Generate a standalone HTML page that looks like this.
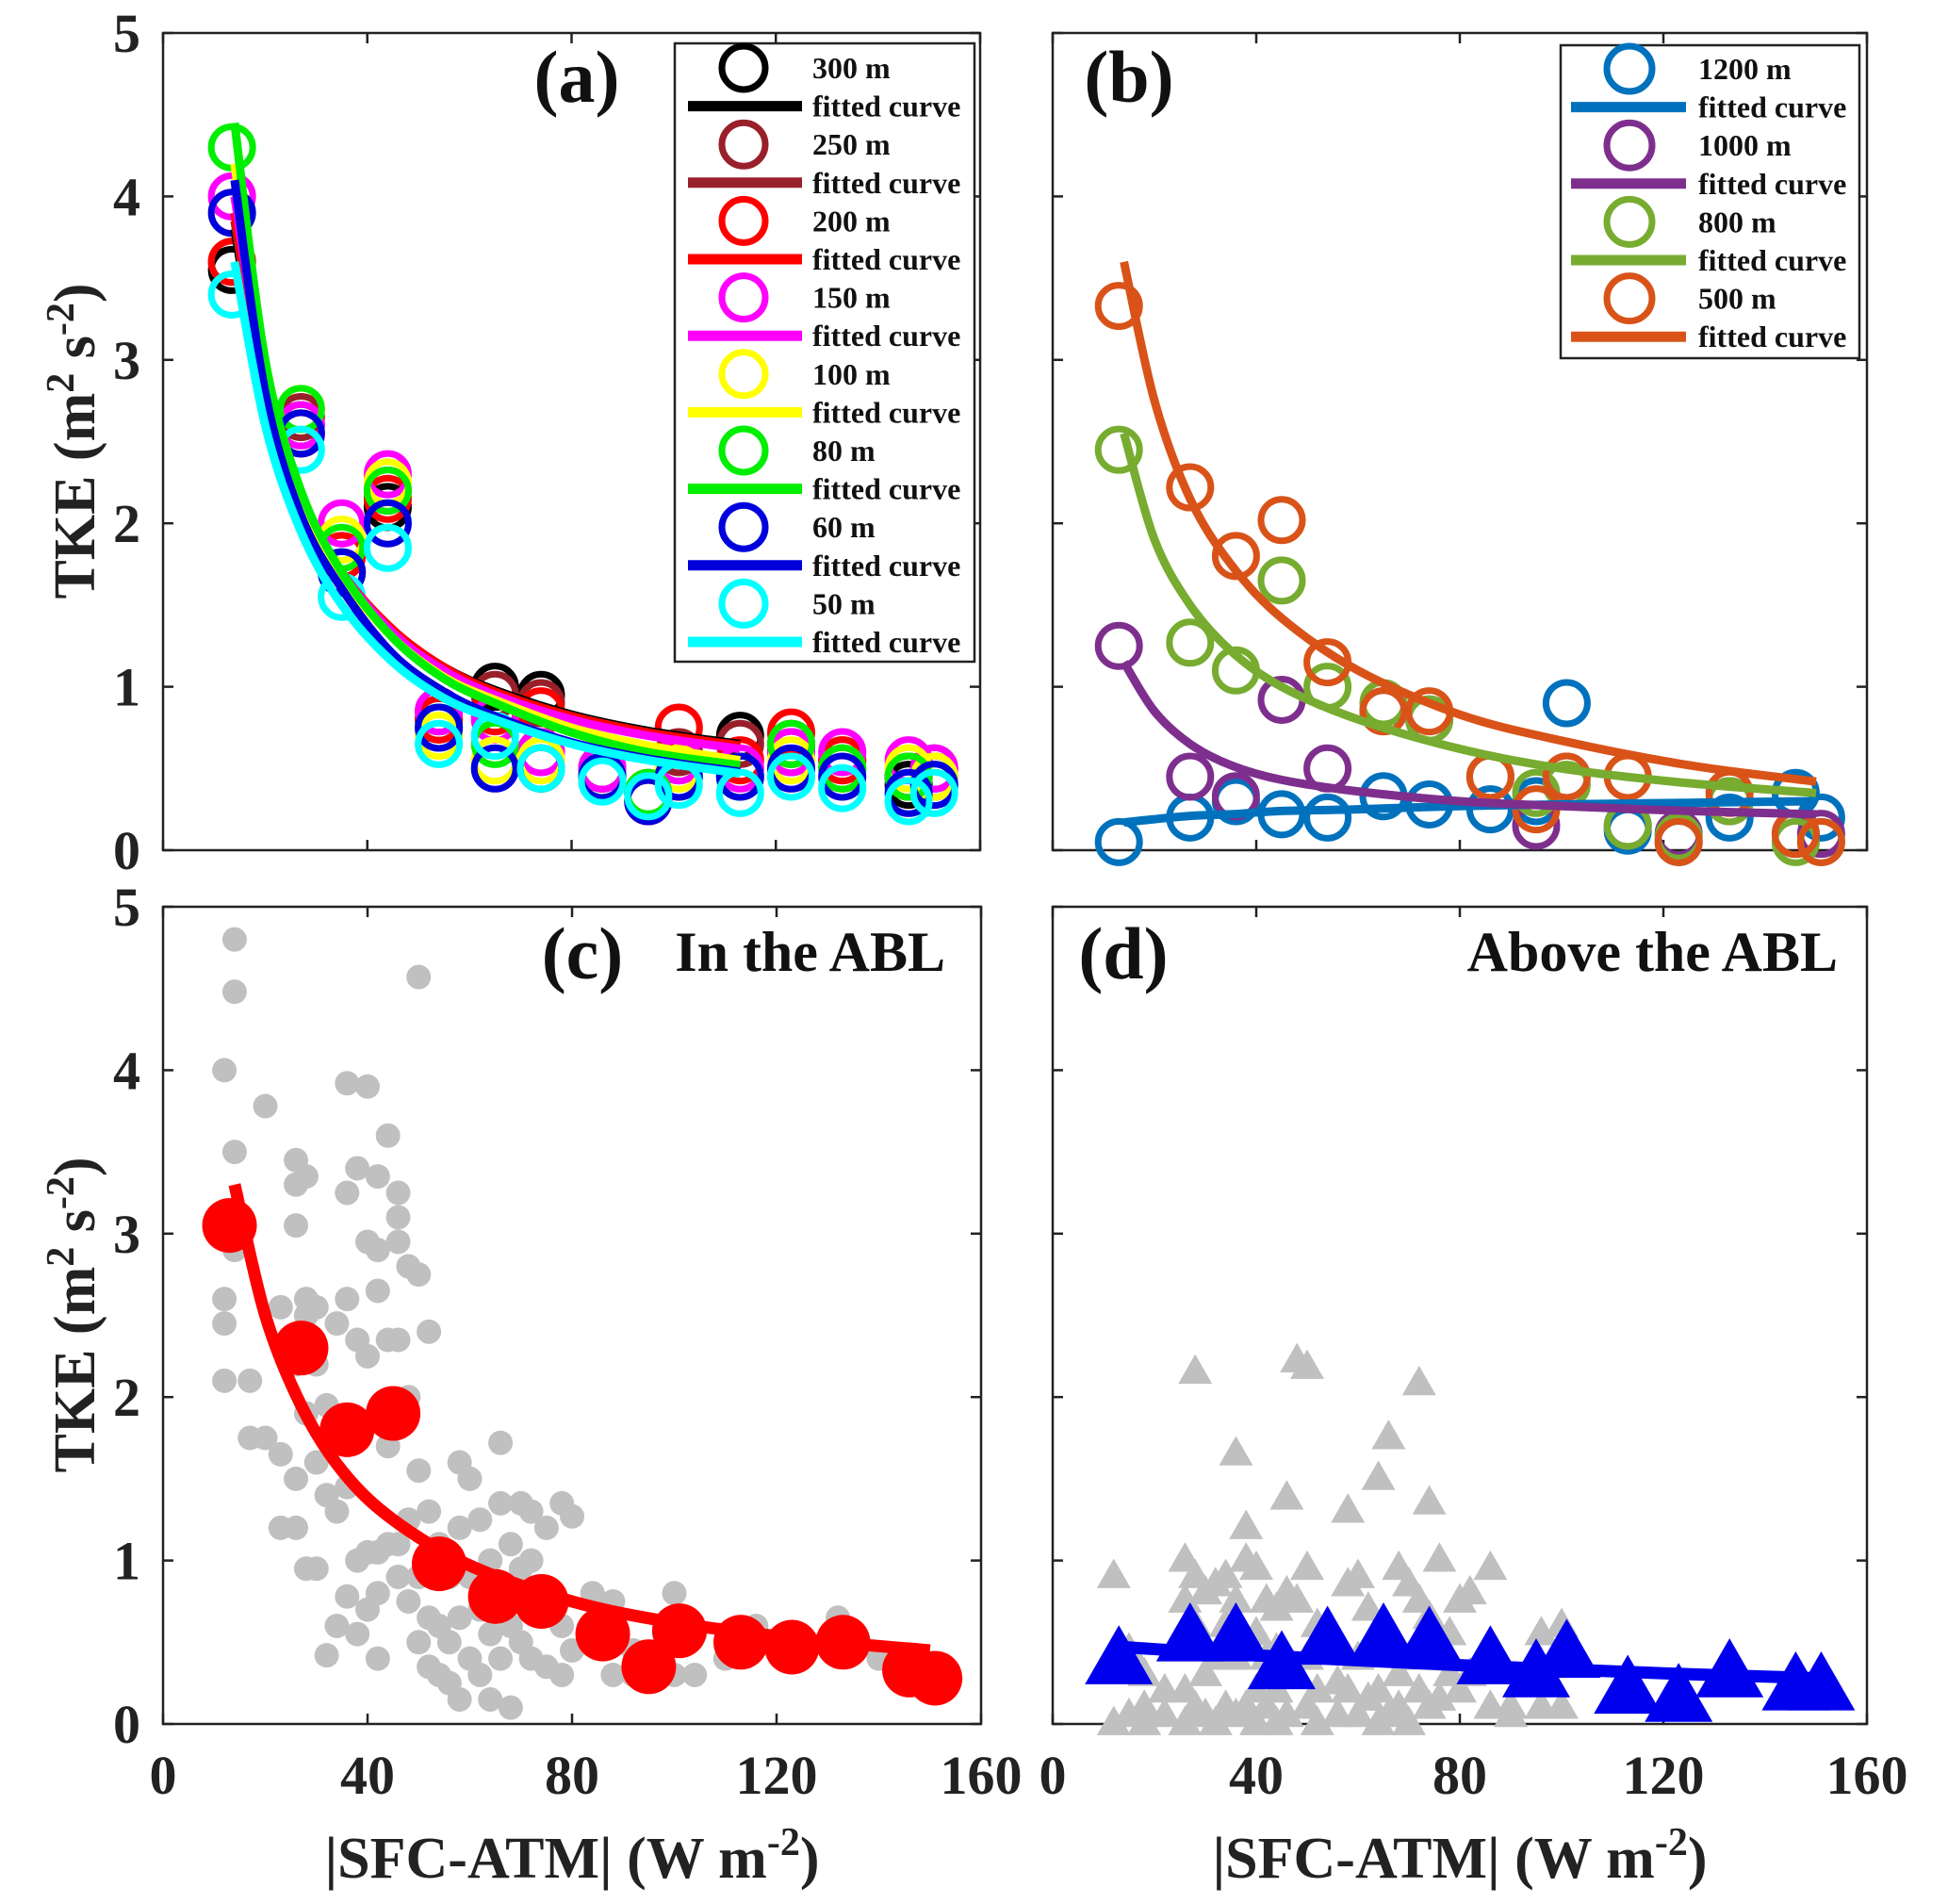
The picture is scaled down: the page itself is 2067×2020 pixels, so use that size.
<!DOCTYPE html>
<html><head><meta charset="utf-8">
<style>
html,body{margin:0;padding:0;background:#fff;}
svg{display:block;font-family:"Liberation Serif",serif;font-weight:bold;}
</style></head>
<body>
<svg id="fig" width="2067" height="2020" viewBox="0 0 2067 2020" xmlns="http://www.w3.org/2000/svg"></svg>
<script>
// ---------- data ----------
const xTicks = [0,40,80,120,160];
const yTicks = [0,1,2,3,4,5];
const xA = [13.5,27,35,44,54,65,74,86,95,101,113,123,133,146,151];
const aLabels = ["300 m","250 m","200 m","150 m","100 m","80 m","60 m","50 m"];
const aColors = ["#000000","#99202a","#ff0000","#ff00ff","#ffff00","#00ee00","#0000dd","#00ffff"];
const a300 = [3.55,2.6,1.7,2.1,0.8,1.0,0.95,0.5,0.35,0.55,0.7,0.6,0.5,0.4,0.5];
const a250 = [3.6,2.65,1.8,2.2,0.85,0.95,0.9,0.5,0.3,0.6,0.65,0.65,0.55,0.45,0.45];
const a200 = [3.6,2.55,1.8,2.15,0.8,0.85,0.85,0.5,0.3,0.75,0.55,0.72,0.55,0.45,0.45];
const a150 = [4.0,2.6,2.0,2.3,0.85,0.8,0.6,0.5,0.35,0.55,0.5,0.6,0.6,0.55,0.5];
const a100 = [3.9,2.7,1.9,2.25,0.7,0.55,0.55,0.45,0.35,0.5,0.45,0.55,0.5,0.5,0.45];
const a80 = [4.3,2.7,1.85,2.2,0.75,0.65,0.5,0.45,0.35,0.45,0.45,0.65,0.5,0.45,0.4];
const a60 = [3.9,2.55,1.7,2.0,0.75,0.5,0.5,0.45,0.3,0.45,0.45,0.5,0.45,0.35,0.4];
const a50 = [3.4,2.45,1.55,1.85,0.65,0.7,0.5,0.42,0.33,0.4,0.35,0.45,0.38,0.3,0.35];
const fitXA = [14,20,27,35,45,55,65,80,95,113];
const fit300 = [3.8,2.75,2.1,1.68,1.34,1.12,0.98,0.83,0.73,0.65];
const fit250 = [3.85,2.78,2.12,1.68,1.34,1.12,0.97,0.82,0.72,0.63];
const fit200 = [3.9,2.8,2.15,1.7,1.35,1.12,0.97,0.82,0.72,0.64];
const fit150 = [4.0,2.85,2.15,1.7,1.33,1.1,0.95,0.8,0.7,0.62];
const fit100 = [4.2,2.9,2.15,1.68,1.3,1.06,0.92,0.75,0.64,0.55];
const fit80 = [4.45,3.0,2.2,1.7,1.3,1.05,0.9,0.72,0.6,0.52];
const fit60 = [4.1,2.8,2.05,1.6,1.2,0.97,0.82,0.66,0.56,0.48];
const fit50 = [3.6,2.6,1.95,1.5,1.15,0.93,0.8,0.65,0.55,0.47];

const xB = [13,27,36,45,54,65,74,86,95,101,113,123,133,146,151];
const bLabels = ["1200 m","1000 m","800 m","500 m"];
const bColors = ["#0072BD","#7E2F8E","#77AC30","#D95319"];
const b1200 = [0.05,0.2,0.3,0.22,0.2,0.33,0.28,0.25,0.3,0.9,0.12,0.05,0.2,0.35,0.2];
const b1000 = [1.25,0.45,0.33,0.92,0.5,0.85,0.8,0.45,0.15,0.45,0.15,0.1,0.3,0.1,0.1];
const b800 = [2.45,1.27,1.1,1.65,1.0,0.9,0.8,0.45,0.35,0.4,0.15,0.08,0.3,0.05,0.05];
const b500 = [3.33,2.22,1.8,2.02,1.15,0.85,0.85,0.45,0.25,0.45,0.45,0.05,0.35,0.1,0.05];
const fitXB = [14,20,27,35,45,60,80,100,125,150];
const fitB1200 = [0.17,0.19,0.21,0.22,0.24,0.25,0.27,0.28,0.29,0.3];
const fitB1000 = [1.15,0.85,0.65,0.52,0.43,0.36,0.3,0.27,0.24,0.22];
const fitB800 = [2.55,1.9,1.5,1.22,1.0,0.8,0.62,0.5,0.41,0.35];
const fitB500 = [3.6,2.75,2.15,1.75,1.42,1.1,0.83,0.67,0.52,0.42];

const grayCX = [12,12,12,12,14,14,14,14,17,17,20,20,23,23,23,26,26,26,26,26,26,28,28,28,28,28,30,30,30,30,32,32,32,34,34,34,34,36,36,36,36,36,38,38,38,38,40,40,40,40,40,42,42,42,42,42,42,44,44,44,44,46,46,46,46,46,46,48,48,48,48,50,50,50,50,50,52,52,52,52,54,54,54,56,56,56,58,58,58,58,60,60,60,62,62,62,64,64,64,66,66,66,66,68,68,68,70,70,70,72,72,72,75,75,75,78,78,78,80,80,84,84,88,88,88,92,92,96,100,100,100,104,104,110,116,116,124,132,132,140];
const grayCY = [4.0,2.6,2.45,2.1,4.8,4.48,3.5,2.9,2.1,1.75,3.78,1.75,2.55,1.65,1.2,3.45,3.3,3.05,2.2,1.5,1.2,3.35,2.6,2.5,1.9,0.95,2.55,2.2,1.6,0.95,1.95,1.4,0.42,2.45,1.75,1.3,0.6,3.92,3.25,2.6,1.45,0.78,3.4,2.35,1.0,0.55,3.9,2.95,2.25,1.05,0.7,3.35,2.9,2.65,1.05,0.8,0.4,3.6,2.35,1.7,1.1,3.25,3.1,2.95,2.35,1.1,0.9,2.8,2.0,1.25,0.75,4.57,2.75,1.55,0.9,0.5,2.4,1.3,0.65,0.35,1.1,0.6,0.3,0.9,0.5,0.25,1.6,1.2,0.65,0.15,1.5,0.9,0.4,1.25,0.7,0.3,1.0,0.55,0.15,1.72,1.35,0.85,0.4,1.1,0.6,0.1,1.35,0.95,0.5,1.3,1.0,0.4,1.2,0.7,0.35,1.35,0.6,0.3,1.27,0.45,0.8,0.5,0.75,0.55,0.3,0.45,0.3,0.35,0.8,0.65,0.3,0.3,0.55,0.4,0.6,0.55,0.45,0.55,0.65,0.4];
const redCY = [3.05,2.3,1.8,1.9,0.98,0.78,0.75,0.55,0.35,0.57,0.5,0.47,0.5,0.33,0.28];
const fitC = [3.3,2.5,1.95,1.55,1.25,0.97,0.75,0.62,0.52,0.45];

const grayDX = [12,12,15,15,18,18,18,22,22,26,26,26,26,26,28,28,28,28,30,30,30,32,32,32,34,34,34,36,36,36,36,38,38,38,38,40,40,40,40,42,42,42,44,44,44,44,46,46,46,46,48,48,48,50,50,50,50,52,52,52,56,56,58,58,58,60,60,60,62,62,64,64,64,66,66,66,68,68,68,70,70,70,72,72,72,74,74,74,76,76,76,78,78,80,80,82,82,86,86,90,90,96,96,100,100];
const grayDY = [0.0,0.9,0.45,0.05,0.3,0.1,0.0,0.2,0.05,1.0,0.75,0.5,0.2,0.0,2.15,0.9,0.6,0.1,0.8,0.3,0.05,0.85,0.4,0.0,0.9,0.6,0.1,1.65,0.75,0.4,0.05,1.2,1.0,0.5,0.1,0.95,0.55,0.2,0.0,0.75,0.4,0.1,0.7,0.45,0.2,0.0,1.38,0.8,0.3,0.05,2.22,0.75,0.3,2.18,0.95,0.4,0.1,0.6,0.2,0.0,0.25,0.05,1.3,0.85,0.2,0.9,0.4,0.05,0.7,0.15,1.5,0.2,0.0,1.75,0.55,0.05,0.95,0.3,0.1,0.85,0.4,0.0,2.08,0.75,0.2,1.35,0.65,0.1,1.0,0.5,0.15,0.55,0.3,0.75,0.2,0.8,0.3,0.95,0.1,0.1,0.05,0.55,0.1,0.6,0.1];
const blueDY = [0.38,0.52,0.52,0.35,0.5,0.52,0.5,0.38,0.3,0.42,0.2,0.15,0.3,0.22,0.22];
const fitXD = [14,40,80,120,150];
const fitD = [0.47,0.42,0.36,0.31,0.28];

// ---------- helpers ----------
const NS = "http://www.w3.org/2000/svg";
const svg = document.getElementById('fig');
function mk(tag, attrs, parent){
  const e = document.createElementNS(NS, tag);
  for (const k in attrs) e.setAttribute(k, attrs[k]);
  (parent||svg).appendChild(e);
  return e;
}
function panel(L,T,R,B){
  return {L,T,R,B,
    x:v=>L+(v/160)*(R-L),
    y:v=>B-(v/5)*(B-T)};
}
const P = {
  a: panel(173,35,1040,902),
  b: panel(1117,35,1981,902),
  c: panel(173,962,1041,1829),
  d: panel(1117,962,1981,1829)
};

function drawAxes(p, name, showY, showX){
  const g = mk('g',{});
  
  
  const box = mk('rect',{x:p.L,y:p.T,width:p.R-p.L,height:p.B-p.T,fill:'none',stroke:'#222','stroke-width':2.5},g);
  
  
  xTicks.forEach(t=>{
    const X=p.x(t);
    mk('line',{x1:X,y1:p.B,x2:X,y2:p.B-11,stroke:'#222','stroke-width':2.5},g);
    mk('line',{x1:X,y1:p.T,x2:X,y2:p.T+11,stroke:'#222','stroke-width':2.5},g);
    if(showX){
      const tx = mk('text',{x:X,y:1903,'font-size':58,'text-anchor':'middle',fill:'#222'},g);
      tx.textContent = t;
      
      
    }
  });
  yTicks.forEach(t=>{
    const Y=p.y(t);
    mk('line',{x1:p.L,y1:Y,x2:p.L+11,y2:Y,stroke:'#222','stroke-width':2.5},g);
    mk('line',{x1:p.R,y1:Y,x2:p.R-11,y2:Y,stroke:'#222','stroke-width':2.5},g);
    if(showY){
      const ty = mk('text',{x:p.L-24,y:Y+20,'font-size':58,'text-anchor':'end',fill:'#222'},g);
      ty.textContent = t;
      
      
    }
  });
}
function smoothPath(pts){
  let d='M'+pts[0][0].toFixed(1)+','+pts[0][1].toFixed(1);
  for(let i=0;i<pts.length-1;i++){
    const p0=pts[Math.max(i-1,0)],p1=pts[i],p2=pts[i+1],p3=pts[Math.min(i+2,pts.length-1)];
    const c1=[p1[0]+(p2[0]-p0[0])/6,p1[1]+(p2[1]-p0[1])/6];
    const c2=[p2[0]-(p3[0]-p1[0])/6,p2[1]-(p3[1]-p1[1])/6];
    d+=` C${c1[0].toFixed(1)},${c1[1].toFixed(1)} ${c2[0].toFixed(1)},${c2[1].toFixed(1)} ${p2[0].toFixed(1)},${p2[1].toFixed(1)}`;
  }
  return d;
}
function curve(p, xs, ys, color, w, name){
  const pts = xs.map((v,i)=>[p.x(v),p.y(ys[i])]);
  const e = mk('path',{d:smoothPath(pts),fill:'none',stroke:color,'stroke-width':w,'stroke-linejoin':'round'});
  
  
}
function circles(p, xs, ys, color, name){
  const g = mk('g',{});
  
  
  xs.forEach((v,i)=>{
    const c = mk('circle',{cx:p.x(v),cy:p.y(ys[i]),r:22,fill:'none',stroke:color,'stroke-width':7},g);
    
    
  });
}
function tri(cx,cy,s,fill,g){
  const h=s*0.87;
  return mk('polygon',{points:`${cx},${cy-h*0.62} ${cx-s/2},${cy+h*0.38} ${cx+s/2},${cy+h*0.38}`,fill:fill},g);
}
function text(x,y,s,size,anchor,name){
  const t = mk('text',{x:x,y:y,'font-size':size,'text-anchor':anchor||'start',fill:'#111'});
  t.textContent=s;
  
  
  return t;
}

// ---------- panel a ----------
drawAxes(P.a,'panel-a',true,false);
const aSeries=[a300,a250,a200,a150,a100,a80,a60,a50];
const aFits=[fit300,fit250,fit200,fit150,fit100,fit80,fit60,fit50];
aSeries.forEach((s,i)=>circles(P.a,xA,s,aColors[i],'markers-'+aLabels[i].replace(' ','')));
aFits.forEach((s,i)=>curve(P.a,fitXA,s,aColors[i],9,'fit-'+aLabels[i].replace(' ','')));
text(612,108,'(a)',78,'middle','panel-a-label');
(function(){
  const g = mk('g',{});
  
  
  mk('rect',{x:716,y:46,width:318,height:656,fill:'#fff',stroke:'#222','stroke-width':2.5},g);
  aLabels.forEach((lab,i)=>{
    const y1=72+i*81.2, y2=y1+40.6;
    const e=mk('g',{},g);
    
    
    mk('circle',{cx:789,cy:y1,r:23,fill:'none',stroke:aColors[i],'stroke-width':7},e);
    mk('line',{x1:730,y1:y2,x2:851,y2:y2,stroke:aColors[i],'stroke-width':11},e);
    const t1=mk('text',{x:862,y:y1+11,'font-size':32,fill:'#111'},e); t1.textContent=lab;
    const t2=mk('text',{x:862,y:y2+11,'font-size':32,fill:'#111'},e); t2.textContent='fitted curve';
  });
})();

// ---------- panel b ----------
drawAxes(P.b,'panel-b',false,false);
const bSeries=[b1200,b1000,b800,b500];
const bFits=[fitB1200,fitB1000,fitB800,fitB500];
bSeries.forEach((s,i)=>circles(P.b,xB,s,bColors[i],'markers-'+bLabels[i].replace(' ','')));
bFits.forEach((s,i)=>curve(P.b,fitXB,s,bColors[i],9,'fit-'+bLabels[i].replace(' ','')));
text(1198,108,'(b)',78,'middle','panel-b-label');
(function(){
  const g = mk('g',{});
  
  
  mk('rect',{x:1656,y:48,width:317,height:332,fill:'#fff',stroke:'#222','stroke-width':2.5},g);
  bLabels.forEach((lab,i)=>{
    const y1=73+i*81.2, y2=y1+40.6;
    const e=mk('g',{},g);
    
    
    mk('circle',{cx:1729,cy:y1,r:24,fill:'none',stroke:bColors[i],'stroke-width':7},e);
    mk('line',{x1:1667,y1:y2,x2:1789,y2:y2,stroke:bColors[i],'stroke-width':11},e);
    const t1=mk('text',{x:1802,y:y1+11,'font-size':32,fill:'#111'},e); t1.textContent=lab;
    const t2=mk('text',{x:1802,y:y2+11,'font-size':32,fill:'#111'},e); t2.textContent='fitted curve';
  });
})();

// ---------- panel c ----------
drawAxes(P.c,'panel-c',true,true);
(function(){
  const g=mk('g',{});
  
  
  grayCX.forEach((v,i)=>{
    const c=mk('circle',{cx:P.c.x(v),cy:P.c.y(grayCY[i]),r:13,fill:'#c0c0c0'},g);
    
    
  });
})();
curve(P.c,fitXB,fitC,'#ff0000',13,'fit-abl');
(function(){
  const g=mk('g',{});
  
  
  xB.forEach((v,i)=>{
    const c=mk('circle',{cx:P.c.x(v),cy:P.c.y(redCY[i]),r:29,fill:'#ff0000'},g);
    
    
  });
})();
text(618,1038,'(c)',78,'middle','panel-c-label');
text(1003,1030,'In the ABL',60,'end','panel-c-annotation');

// ---------- panel d ----------
drawAxes(P.d,'panel-d',false,true);
(function(){
  const g=mk('g',{});
  
  
  grayDX.forEach((v,i)=>{
    const t=tri(P.d.x(v),P.d.y(grayDY[i]),36,'#c0c0c0',g);
    
    
  });
})();
curve(P.d,fitXD,fitD,'#0000ee',13,'fit-above');
(function(){
  const g=mk('g',{});
  
  
  xB.forEach((v,i)=>{
    const t=tri(P.d.x(v),P.d.y(blueDY[i]),72,'#0000ee',g);
    
    
  });
})();
text(1192,1038,'(d)',78,'middle','panel-d-label');
text(1950,1030,'Above the ABL',60,'end','panel-d-annotation');

// ---------- axis titles ----------
function ytitle(cy,name){
  const t=mk('text',{x:0,y:0,'font-size':62,'text-anchor':'middle',fill:'#222',transform:`translate(100,${cy}) rotate(-90)`});
  t.innerHTML='TKE (m<tspan dy="-22" font-size="42">2</tspan><tspan dy="22"> s</tspan><tspan dy="-22" font-size="42">-2</tspan><tspan dy="22">)</tspan>';
  
  
}
ytitle(468,'y-axis-title-top');
ytitle(1395,'y-axis-title-bottom');
function xtitle(cx,name){
  const t=mk('text',{x:cx,y:1992,'font-size':62,'text-anchor':'middle',fill:'#222'});
  t.innerHTML='|SFC-ATM| (W m<tspan dy="-24" font-size="42">-2</tspan><tspan dy="24">)</tspan>';
  
  
}
xtitle(607,'x-axis-title-left');
xtitle(1549,'x-axis-title-right');
</script>
</body></html>
